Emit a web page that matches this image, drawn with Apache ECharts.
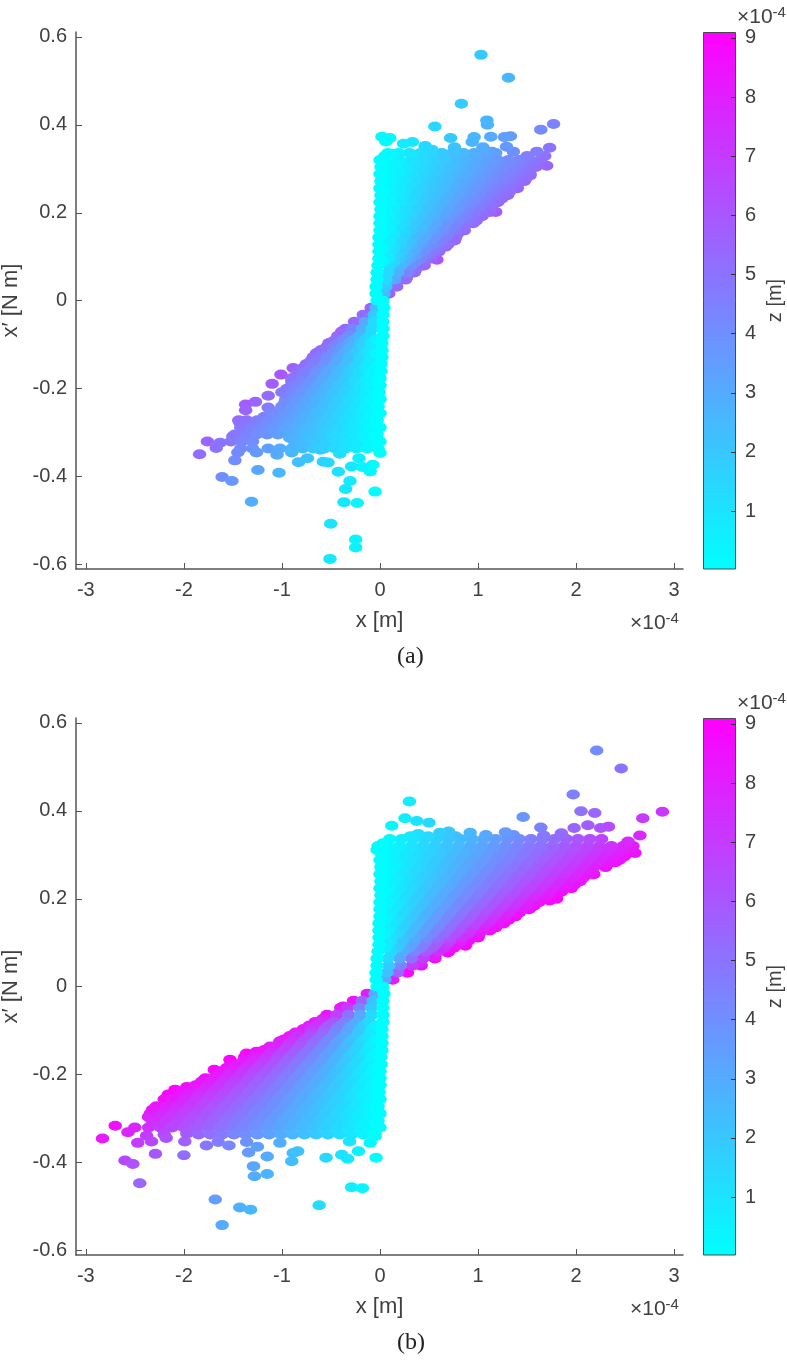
<!DOCTYPE html>
<html>
<head>
<meta charset="utf-8">
<style>html,body{margin:0;padding:0;background:#fff}#chart{width:787px;height:1365px}</style>
<script src="https://cdn.jsdelivr.net/npm/echarts@6/dist/echarts.min.js"></script>
</head>
<body>
<div id="chart"></div>
<script>
// Tick labels
const xTicks = [-3, -2, -1, 0, 1, 2, 3];
const yTicks = [-0.6, -0.4, -0.2, 0, 0.2, 0.4, 0.6];
const zTicks = [1, 2, 3, 4, 5, 6, 7, 8, 9];
const panelLabels = ['(a)', '(b)'];

// Fan body, one row per torque level: [y, [x...], [z...]], x and z in units of 1e-4 m
const bodyAUpper = [
[.336,[.08,.19,.3,.41,.52,.63,.74,.85,.96,1.07,1.18],[.2,.6,.9,1.2,1.5,1.9,2.2,2.5,2.9,3.2,3.5]],
[.32,[0,.1,.2,.32,.43,.54,.65,.76,.87,.98,1.09,1.2,1.31,1.42,1.53,1.64],[.05,.3,.6,1,1.3,1.7,2,2.4,2.7,3.1,3.4,3.8,4.1,4.4,4.8,5.1]],
[.312,[.03,.14,.25,.36,.47,.58,.69,.8,.91,1.02,1.13,1.24,1.35,1.46,1.57],[.1,.4,.8,1.2,1.5,1.9,2.2,2.6,2.9,3.3,3.6,4,4.3,4.7,5]],
[.304,[.01,.16,.27,.38,.49,.6,.71,.82,.93,1.04,1.15,1.26,1.37,1.48,1.59],[.05,.5,.9,1.3,1.6,2,2.3,2.7,3.1,3.4,3.8,4.1,4.5,4.9,5.2]],
[.296,[.08,.19,.3,.41,.52,.63,.74,.85,.96,1.07,1.18,1.29,1.4,1.51],[.3,.6,1,1.4,1.8,2.1,2.5,2.9,3.2,3.6,4,4.4,4.7,5.1]],
[.288,[0,.1,.21,.32,.43,.54,.65,.76,.87,.98,1.09,1.2,1.31,1.42,1.53],[.05,.3,.7,1.1,1.5,1.9,2.3,2.6,3,3.4,3.8,4.2,4.5,4.9,5.3]],
[.28,[.03,.14,.25,.36,.47,.58,.69,.8,.91,1.02,1.13,1.24,1.35,1.46],[.1,.5,.9,1.3,1.7,2.1,2.5,2.9,3.3,3.6,4,4.4,4.8,5.2]],
[.272,[.01,.15,.26,.37,.48,.59,.7,.81,.92,1.03,1.14,1.25,1.36,1.47],[.05,.6,1,1.4,1.8,2.2,2.6,3,3.4,3.8,4.2,4.6,5,5.4]],
[.264,[.08,.19,.3,.41,.52,.63,.74,.85,.96,1.07,1.18,1.29,1.4],[.3,.7,1.1,1.6,2,2.4,2.8,3.2,3.6,4.1,4.5,4.9,5.3]],
[.256,[0,.1,.21,.32,.43,.54,.65,.76,.87,.98,1.09,1.2,1.31,1.4],[.05,.4,.8,1.3,1.7,2.1,2.5,3,3.4,3.8,4.3,4.7,5.1,5.5]],
[.248,[.03,.14,.25,.36,.47,.58,.69,.8,.91,1.02,1.13,1.24,1.32],[.1,.6,1,1.5,1.9,2.3,2.8,3.2,3.7,4.1,4.6,5,5.3]],
[.24,[.01,.14,.25,.36,.47,.58,.69,.8,.91,1.02,1.13,1.24,1.3],[.05,.6,1,1.5,2,2.4,2.9,3.3,3.8,4.3,4.7,5.2,5.4]],
[.232,[.08,.19,.3,.41,.52,.63,.74,.85,.96,1.07,1.18,1.24],[.3,.8,1.3,1.8,2.2,2.7,3.2,3.7,4.1,4.6,5.1,5.3]],
[.224,[0,.1,.21,.32,.43,.54,.65,.76,.87,.98,1.09,1.2],[.05,.4,.9,1.4,1.9,2.4,2.9,3.4,3.9,4.4,4.9,5.4]],
[.216,[.03,.14,.25,.36,.47,.58,.69,.8,.91,1.02,1.13],[.1,.6,1.2,1.7,2.2,2.7,3.2,3.7,4.2,4.7,5.2]],
[.208,[.01,.14,.25,.36,.47,.58,.69,.8,.91,1.02,1.12],[.05,.7,1.2,1.7,2.3,2.8,3.3,3.8,4.4,4.9,5.4]],
[.2,[.08,.19,.3,.41,.52,.63,.74,.85,.96,1.06],[.4,1,1.5,2.1,2.6,3.2,3.7,4.3,4.8,5.3]],
[.192,[0,.1,.21,.32,.43,.54,.65,.76,.87,.98,1.04],[.05,.5,1.1,1.7,2.2,2.8,3.4,4,4.5,5.1,5.4]],
[.184,[.03,.14,.25,.36,.47,.58,.69,.8,.91,.98],[.2,.8,1.4,2,2.6,3.2,3.8,4.3,4.9,5.3]],
[.176,[0,.13,.24,.35,.46,.57,.68,.79,.9,.95],[.05,.7,1.4,2,2.6,3.2,3.9,4.5,5.1,5.4]],
[.168,[.08,.19,.3,.41,.52,.63,.74,.85],[.5,1.1,1.8,2.4,3.1,3.8,4.4,5.1]],
[.16,[0,.1,.21,.32,.43,.54,.65,.76,.86],[.05,.6,1.3,2,2.7,3.4,4.1,4.8,5.4]],
[.152,[.03,.14,.25,.36,.47,.58,.69,.79],[.2,.9,1.6,2.4,3.1,3.8,4.5,5.2]],
[.144,[-.01,.12,.23,.34,.45,.56,.67,.77],[.05,.8,1.6,2.4,3.1,3.9,4.7,5.3]],
[.136,[.08,.19,.3,.41,.52,.63,.71],[.6,1.4,2.2,3,3.8,4.6,5.2]],
[.128,[-.01,.1,.21,.32,.43,.54,.65,.69],[.05,.8,1.6,2.5,3.4,4.2,5.1,5.4]],
[.12,[.03,.14,.25,.36,.47,.58],[.3,1.2,2.1,3,3.9,4.8]],
[.112,[-.01,.11,.22,.33,.44,.55,.6],[.05,1,2,2.9,3.9,4.9,5.4]],
[.104,[.07,.17,.27,.37,.47,.54],[.7,1.6,2.6,3.6,4.5,5.2]],
[.096,[-.01,.09,.2,.31,.42,.52],[.05,.9,2.1,3.2,4.4,5.4]],
[.088,[.03,.14,.25,.36,.45],[.3,1.6,2.8,4.1,5.1]],
[.08,[-.02,.1,.21,.32,.43],[.05,1.3,2.6,4,5.4]],
[.064,[-.03,.08,.18,.28,.35],[.05,1.3,2.8,4.4,5.4]],
[.048,[-.03,.06,.15,.26],[.05,1.3,3.1,5.4]],
[.032,[-.04,.06,.17],[.05,1.9,5.3]],
[.016,[-.04,.04,.09],[.05,2.5,5.5]],
[0,[-.03,.03],[.05,.05]]];
const bodyALower = [
[-.336,[-.02,-.13,-.24,-.35,-.46,-.57,-.68,-.79,-.9,-1.02,-1.14,-1.3,-1.42],[.1,.4,.7,1,1.4,1.7,2,2.4,2.7,3,3.4,3.9,4.2]],
[-.32,[0,-.1,-.21,-.32,-.43,-.54,-.65,-.76,-.87,-1.3,-1.41,-1.52],[.05,.3,.7,1,1.3,1.7,2,2.4,2.7,4.1,4.4,4.8]],
[-.312,[-.04,-.15,-.26,-.37,-.48,-.59,-.7,-.81,-.92],[.1,.5,.8,1.2,1.5,1.9,2.2,2.6,2.9]],
[-.304,[-.03,-.16,-.27,-.38,-.49,-.6,-.71,-.82,-.93,-1.04,-1.15,-1.26,-1.37,-1.48],[.05,.5,.9,1.3,1.6,2,2.3,2.7,3.1,3.4,3.8,4.1,4.5,4.9]],
[-.296,[-.09,-.2,-.31,-.42,-.53,-.64,-.75,-.86,-.97,-1.08,-1.19,-1.3,-1.41],[.3,.7,1,1.4,1.8,2.2,2.5,2.9,3.3,3.6,4,4.4,4.8]],
[-.288,[0,-.1,-.21,-.32,-.43,-.54,-.65,-.76,-.87,-.98,-1.09,-1.2,-1.31,-1.42],[.05,.3,.7,1.1,1.5,1.9,2.3,2.6,3,3.4,3.8,4.2,4.5,4.9]],
[-.28,[-.04,-.15,-.26,-.37,-.48,-.59,-.7,-.81,-.92,-1.03,-1.14,-1.25,-1.36],[.1,.5,.9,1.3,1.7,2.1,2.5,2.9,3.3,3.7,4.1,4.5,4.9]],
[-.272,[-.03,-.15,-.26,-.37,-.48,-.59,-.7,-.81,-.92,-1.03,-1.14,-1.25,-1.36,-1.44],[.05,.6,1,1.4,1.8,2.2,2.6,3,3.4,3.8,4.2,4.6,5,5.3]],
[-.264,[-.09,-.2,-.31,-.42,-.53,-.64,-.75,-.86,-.97,-1.08,-1.18],[.3,.8,1.2,1.6,2,2.4,2.8,3.3,3.7,4.1,4.5]],
[-.256,[0,-.1,-.21,-.32,-.43,-.54,-.65,-.76,-.87,-.98,-1.1],[.05,.4,.8,1.3,1.7,2.1,2.5,3,3.4,3.8,4.3]],
[-.248,[-.04,-.15,-.26,-.37,-.48,-.59,-.7,-.81,-.92,-1.01],[.2,.6,1,1.5,1.9,2.4,2.8,3.3,3.7,4.1]],
[-.24,[-.02,-.14,-.25,-.36,-.47,-.58,-.69,-.8,-.91,-1],[.05,.6,1,1.5,2,2.4,2.9,3.3,3.8,4.2]],
[-.232,[-.09,-.2,-.31,-.42,-.53,-.64,-.75,-.86,-.97],[.4,.9,1.3,1.8,2.3,2.8,3.2,3.7,4.2]],
[-.224,[0,-.1,-.21,-.32,-.43,-.54,-.65,-.76,-.87,-.96],[.05,.4,.9,1.4,1.9,2.4,2.9,3.4,3.9,4.3]],
[-.216,[-.04,-.15,-.26,-.37,-.48,-.59,-.7,-.81,-.92],[.2,.7,1.2,1.7,2.2,2.7,3.2,3.8,4.3]],
[-.208,[-.01,-.14,-.25,-.36,-.47,-.58,-.69,-.8,-.91,-1],[.05,.7,1.2,1.7,2.3,2.8,3.3,3.8,4.4,4.8]],
[-.2,[-.09,-.2,-.31,-.42,-.53,-.64,-.75,-.86,-.95],[.5,1,1.6,2.1,2.7,3.2,3.8,4.3,4.8]],
[-.192,[0,-.1,-.21,-.32,-.43,-.54,-.65,-.76,-.87],[.05,.5,1.1,1.7,2.2,2.8,3.4,4,4.5]],
[-.184,[-.04,-.15,-.26,-.37,-.48,-.59,-.7,-.81,-.9],[.2,.8,1.4,2,2.6,3.2,3.8,4.4,4.9]],
[-.176,[0,-.13,-.24,-.35,-.46,-.57,-.68,-.79,-.9],[.05,.7,1.4,2,2.6,3.2,3.9,4.5,5.1]],
[-.168,[-.09,-.2,-.31,-.42,-.53,-.64,-.75,-.85],[.5,1.2,1.8,2.5,3.2,3.8,4.5,5.1]],
[-.16,[.01,-.1,-.21,-.32,-.43,-.54,-.65,-.76,-.84],[.05,.6,1.3,2,2.7,3.4,4.1,4.8,5.3]],
[-.152,[-.04,-.15,-.26,-.37,-.48,-.59,-.7,-.78],[.3,1,1.7,2.4,3.2,3.9,4.6,5.1]],
[-.144,[.01,-.12,-.23,-.34,-.45,-.56,-.67,-.75],[.05,.8,1.6,2.4,3.1,3.9,4.7,5.2]],
[-.136,[-.09,-.2,-.31,-.42,-.53,-.64,-.7],[.7,1.5,2.3,3.1,3.9,4.7,5.1]],
[-.128,[.02,-.1,-.21,-.32,-.43,-.54,-.65,-.68],[.05,.8,1.6,2.5,3.4,4.2,5.1,5.3]],
[-.12,[-.04,-.15,-.26,-.37,-.48,-.59],[.3,1.3,2.2,3.1,4,4.9]],
[-.112,[.02,-.11,-.22,-.33,-.44,-.55,-.6],[.05,1,2,2.9,3.9,4.9,5.4]],
[-.104,[-.08,-.18,-.28,-.38,-.48,-.54],[.8,1.7,2.7,3.7,4.6,5.2]],
[-.096,[.02,-.09,-.2,-.31,-.42,-.52],[.05,.9,2.1,3.2,4.4,5.4]],
[-.088,[-.04,-.15,-.26,-.37,-.45],[.5,1.7,3,4.2,5.1]],
[-.08,[.03,-.1,-.21,-.32,-.43],[.05,1.3,2.6,4,5.4]],
[-.064,[.03,-.08,-.18,-.28,-.35],[.05,1.3,2.8,4.4,5.4]],
[-.048,[.03,-.06,-.15,-.26],[.05,1.3,3.1,5.4]],
[-.032,[.03,-.06,-.17],[.05,1.9,5.3]],
[-.016,[.04,-.04,-.09],[.05,2.5,5.5]]];
const bodyBUpper = [
[.336,[.1,.22,.34,.46,.58,.7,.82,.94,1.06,1.18,1.3,1.42,1.54,1.66,1.78,1.9,2.02,2.14,2.26],[.3,.7,1,1.4,1.7,2.1,2.4,2.8,3.2,3.5,3.9,4.2,4.6,4.9,5.3,5.7,6,6.4,6.7]],
[.32,[-.02,.08,.2,.32,.44,.56,.68,.8,.92,1.04,1.16,1.28,1.4,1.52,1.64,1.76,1.88,2,2.12,2.24,2.36,2.48,2.58],[.05,.3,.6,1,1.4,1.8,2.1,2.5,2.9,3.3,3.6,4,4.4,4.8,5.1,5.5,5.9,6.3,6.6,7,7.4,7.8,8.1]],
[.312,[.05,.17,.29,.41,.53,.65,.77,.89,1.01,1.13,1.25,1.37,1.49,1.61,1.73,1.85,1.97,2.09,2.21,2.33,2.45,2.55],[.2,.5,.9,1.3,1.7,2.1,2.5,2.9,3.2,3.6,4,4.4,4.8,5.2,5.5,5.9,6.3,6.7,7.1,7.5,7.9,8.2]],
[.304,[.01,.14,.26,.38,.5,.62,.74,.86,.98,1.1,1.22,1.34,1.46,1.58,1.7,1.82,1.94,2.06,2.18,2.3,2.42,2.54],[.05,.5,.9,1.3,1.6,2,2.4,2.8,3.2,3.6,4,4.4,4.8,5.2,5.6,6,6.4,6.8,7.2,7.6,8,8.4]],
[.296,[.11,.23,.35,.47,.59,.71,.83,.95,1.07,1.19,1.31,1.43,1.55,1.67,1.79,1.91,2.03,2.15,2.27,2.39,2.49],[.4,.8,1.2,1.6,2,2.4,2.8,3.2,3.6,4,4.4,4.8,5.2,5.6,6,6.5,6.9,7.3,7.7,8.1,8.4]],
[.288,[0,.08,.2,.32,.44,.56,.68,.8,.92,1.04,1.16,1.28,1.4,1.52,1.64,1.76,1.88,2,2.12,2.24,2.36,2.44],[.05,.3,.7,1.1,1.5,1.9,2.4,2.8,3.2,3.6,4,4.4,4.9,5.3,5.7,6.1,6.5,6.9,7.4,7.8,8.2,8.5]],
[.28,[.05,.17,.29,.41,.53,.65,.77,.89,1.01,1.13,1.25,1.37,1.49,1.61,1.73,1.85,1.97,2.09,2.21,2.33],[.2,.6,1,1.5,1.9,2.3,2.8,3.2,3.6,4,4.5,4.9,5.3,5.8,6.2,6.6,7,7.5,7.9,8.3]],
[.272,[.01,.14,.26,.38,.5,.62,.74,.86,.98,1.1,1.22,1.34,1.46,1.58,1.7,1.82,1.94,2.06,2.18,2.3],[.05,.5,1,1.4,1.8,2.3,2.7,3.2,3.6,4,4.5,4.9,5.4,5.8,6.3,6.7,7.1,7.6,8,8.5]],
[.264,[.11,.23,.35,.47,.59,.71,.83,.95,1.07,1.19,1.31,1.43,1.55,1.67,1.79,1.91,2.03,2.15],[.4,.9,1.3,1.8,2.2,2.7,3.1,3.6,4.1,4.5,5,5.4,5.9,6.3,6.8,7.2,7.7,8.1]],
[.256,[0,.08,.2,.32,.44,.56,.68,.8,.92,1.04,1.16,1.28,1.4,1.52,1.64,1.76,1.88,2,2.12,2.18],[.05,.3,.8,1.3,1.7,2.2,2.7,3.1,3.6,4.1,4.5,5,5.5,5.9,6.4,6.9,7.3,7.8,8.3,8.5]],
[.248,[.05,.17,.29,.41,.53,.65,.77,.89,1.01,1.13,1.25,1.37,1.49,1.61,1.73,1.85,1.97,2.07],[.2,.7,1.2,1.7,2.1,2.6,3.1,3.6,4.1,4.6,5,5.5,6,6.5,7,7.5,7.9,8.3]],
[.24,[.01,.14,.26,.38,.5,.62,.74,.86,.98,1.1,1.22,1.34,1.46,1.58,1.7,1.82,1.94,2.04],[.05,.6,1.1,1.6,2.1,2.6,3.1,3.6,4.1,4.6,5.1,5.6,6.1,6.6,7.1,7.6,8.1,8.5]],
[.232,[.11,.23,.35,.47,.59,.71,.83,.95,1.07,1.19,1.31,1.43,1.55,1.67,1.79,1.91,1.98],[.5,1,1.5,2,2.5,3.1,3.6,4.1,4.6,5.1,5.6,6.2,6.7,7.2,7.7,8.2,8.5]],
[.224,[0,.08,.2,.32,.44,.56,.68,.8,.92,1.04,1.16,1.28,1.4,1.52,1.64,1.76,1.88,1.95],[.05,.4,.9,1.4,2,2.5,3,3.6,4.1,4.6,5.2,5.7,6.3,6.8,7.3,7.9,8.4,8.7]],
[.216,[.05,.17,.29,.41,.53,.65,.77,.89,1.01,1.13,1.25,1.37,1.49,1.61,1.73,1.85],[.2,.8,1.3,1.9,2.5,3,3.6,4.1,4.7,5.2,5.8,6.3,6.9,7.5,8,8.6]],
[.208,[.01,.14,.26,.38,.5,.62,.74,.86,.98,1.1,1.22,1.34,1.46,1.58,1.7,1.8],[.05,.7,1.3,1.8,2.4,3,3.6,4.1,4.7,5.3,5.9,6.4,7,7.6,8.2,8.7]],
[.2,[.11,.23,.35,.47,.59,.71,.83,.95,1.07,1.19,1.31,1.43,1.55,1.67],[.6,1.2,1.8,2.4,3,3.6,4.2,4.8,5.4,6,6.6,7.2,7.8,8.4]],
[.192,[0,.08,.2,.32,.44,.56,.68,.8,.92,1.04,1.16,1.28,1.4,1.52,1.62],[.05,.4,1,1.7,2.3,2.9,3.5,4.2,4.8,5.4,6,6.7,7.3,7.9,8.4]],
[.184,[.05,.17,.29,.41,.53,.65,.77,.89,1.01,1.13,1.25,1.37,1.49,1.57],[.3,.9,1.6,2.2,2.9,3.5,4.2,4.8,5.5,6.1,6.8,7.4,8.1,8.5]],
[.176,[0,.13,.25,.37,.49,.61,.73,.85,.97,1.09,1.21,1.33,1.45,1.52],[.05,.7,1.4,2.1,2.8,3.5,4.1,4.8,5.5,6.2,6.9,7.6,8.2,8.6]],
[.168,[.11,.23,.35,.47,.59,.71,.83,.95,1.07,1.19,1.31,1.42],[.7,1.4,2.1,2.8,3.5,4.2,4.9,5.7,6.4,7.1,7.8,8.5]],
[.16,[0,.08,.2,.32,.44,.56,.68,.8,.92,1.04,1.16,1.28,1.38],[.05,.5,1.3,2,2.8,3.5,4.3,5,5.8,6.5,7.3,8,8.6]],
[.152,[.05,.17,.29,.41,.53,.65,.77,.89,1.01,1.13,1.25,1.31],[.3,1.1,1.9,2.7,3.5,4.3,5.1,5.9,6.6,7.4,8.2,8.6]],
[.144,[-.01,.13,.25,.37,.49,.61,.73,.85,.97,1.09,1.21,1.26],[.05,.9,1.7,2.6,3.4,4.2,5.1,5.9,6.7,7.6,8.4,8.7]],
[.136,[.11,.23,.35,.47,.59,.71,.83,.95,1.07,1.16],[.8,1.7,2.6,3.5,4.3,5.2,6.1,7,7.9,8.5]],
[.128,[-.01,.08,.2,.32,.44,.56,.68,.8,.92,1.04,1.12],[.05,.6,1.6,2.5,3.4,4.4,5.3,6.3,7.2,8.1,8.7]],
[.12,[.05,.17,.29,.41,.53,.65,.77,.89,1.01],[.4,1.4,2.4,3.4,4.4,5.4,6.4,7.4,8.4]],
[.112,[-.01,.11,.23,.35,.47,.59,.71,.83,.95,1],[.05,1,2.1,3.1,4.2,5.3,6.3,7.4,8.5,8.9]],
[.104,[.11,.23,.35,.47,.59,.71,.83,.9],[1.1,2.2,3.4,4.5,5.7,6.8,8,8.7]],
[.096,[-.01,.08,.2,.32,.44,.56,.68,.8,.86],[.05,.8,2.1,3.3,4.6,5.8,7.1,8.3,8.9]],
[.088,[.05,.17,.29,.41,.53,.65,.75],[.6,1.9,3.3,4.7,6,7.4,8.5]],
[.08,[-.02,.11,.23,.35,.47,.59,.7],[.05,1.4,2.9,4.4,5.9,7.4,8.8]],
[.064,[-.03,.08,.2,.32,.44,.56],[.05,1.3,3.1,5,6.9,8.8]],
[.048,[-.03,.09,.21,.33,.42],[.05,1.9,4.4,6.9,8.8]],
[.032,[-.04,.07,.18,.28],[.05,2.2,5.6,8.8]],
[.016,[-.04,.05,.13],[.05,3.1,8.1]],
[0,[-.03,.03],[.05,.05]]];
const bodyBLower = [
[-.336,[-.05,-.17,-.29,-.41,-.53,-.65,-.77,-.89,-1.01,-1.13,-1.25,-1.37,-1.49,-1.61,-1.73,-1.85,-2.2],[.1,.5,.9,1.2,1.6,1.9,2.3,2.6,3,3.4,3.7,4.1,4.4,4.8,5.1,5.5,6.5]],
[-.32,[0,-.08,-.2,-.32,-.44,-.56,-.68,-.8,-.92,-1.04,-1.16,-1.28,-1.4,-1.52,-1.64,-1.76,-1.88,-2,-2.12,-2.24,-2.36],[.05,.3,.6,1,1.4,1.8,2.1,2.5,2.9,3.3,3.6,4,4.4,4.8,5.1,5.5,5.9,6.3,6.6,7,7.4]],
[-.312,[-.04,-.16,-.28,-.4,-.52,-.64,-.76,-.88,-1,-1.12,-1.24,-1.36,-1.48,-1.6,-1.72,-1.84,-1.96,-2.08,-2.2,-2.32],[.1,.5,.9,1.3,1.7,2.1,2.4,2.8,3.2,3.6,4,4.4,4.7,5.1,5.5,5.9,6.3,6.7,7.1,7.4]],
[-.304,[-.02,-.14,-.26,-.38,-.5,-.62,-.74,-.86,-.98,-1.1,-1.22,-1.34,-1.46,-1.58,-1.7,-1.82,-1.94,-2.06,-2.18,-2.3],[.05,.5,.9,1.3,1.6,2,2.4,2.8,3.2,3.6,4,4.4,4.8,5.2,5.6,6,6.4,6.8,7.2,7.6]],
[-.296,[-.1,-.22,-.34,-.46,-.58,-.7,-.82,-.94,-1.06,-1.18,-1.3,-1.42,-1.54,-1.66,-1.78,-1.9,-2.02,-2.14,-2.26,-2.36],[.3,.7,1.1,1.6,2,2.4,2.8,3.2,3.6,4,4.4,4.8,5.2,5.6,6,6.4,6.8,7.2,7.6,8]],
[-.288,[0,-.08,-.2,-.32,-.44,-.56,-.68,-.8,-.92,-1.04,-1.16,-1.28,-1.4,-1.52,-1.64,-1.76,-1.88,-2,-2.12,-2.24,-2.34],[.05,.3,.7,1.1,1.5,1.9,2.4,2.8,3.2,3.6,4,4.4,4.9,5.3,5.7,6.1,6.5,6.9,7.4,7.8,8.1]],
[-.28,[-.04,-.16,-.28,-.4,-.52,-.64,-.76,-.88,-1,-1.12,-1.24,-1.36,-1.48,-1.6,-1.72,-1.84,-1.96,-2.08,-2.2,-2.32],[.1,.6,1,1.4,1.9,2.3,2.7,3.1,3.6,4,4.4,4.9,5.3,5.7,6.1,6.6,7,7.4,7.9,8.3]],
[-.272,[-.02,-.14,-.26,-.38,-.5,-.62,-.74,-.86,-.98,-1.1,-1.22,-1.34,-1.46,-1.58,-1.7,-1.82,-1.94,-2.06,-2.18,-2.28],[.05,.5,1,1.4,1.8,2.3,2.7,3.2,3.6,4,4.5,4.9,5.4,5.8,6.3,6.7,7.1,7.6,8,8.4]],
[-.264,[-.1,-.22,-.34,-.46,-.58,-.7,-.82,-.94,-1.06,-1.18,-1.3,-1.42,-1.54,-1.66,-1.78,-1.9,-2.02,-2.14],[.4,.8,1.3,1.7,2.2,2.7,3.1,3.6,4,4.5,4.9,5.4,5.8,6.3,6.7,7.2,7.7,8.1]],
[-.256,[0,-.08,-.2,-.32,-.44,-.56,-.68,-.8,-.92,-1.04,-1.16,-1.28,-1.4,-1.52,-1.64,-1.76,-1.88,-2,-2.12,-2.2],[.05,.3,.8,1.3,1.7,2.2,2.7,3.1,3.6,4.1,4.5,5,5.5,5.9,6.4,6.9,7.3,7.8,8.3,8.6]],
[-.248,[-.04,-.16,-.28,-.4,-.52,-.64,-.76,-.88,-1,-1.12,-1.24,-1.36,-1.48,-1.6,-1.72,-1.84,-1.96,-2.05],[.2,.6,1.1,1.6,2.1,2.6,3.1,3.5,4,4.5,5,5.5,6,6.5,6.9,7.4,7.9,8.3]],
[-.24,[-.01,-.14,-.26,-.38,-.5,-.62,-.74,-.86,-.98,-1.1,-1.22,-1.34,-1.46,-1.58,-1.7,-1.82,-1.94,-2.04],[.05,.6,1.1,1.6,2.1,2.6,3.1,3.6,4.1,4.6,5.1,5.6,6.1,6.6,7.1,7.6,8.1,8.5]],
[-.232,[-.1,-.22,-.34,-.46,-.58,-.7,-.82,-.94,-1.06,-1.18,-1.3,-1.42,-1.54,-1.66,-1.78,-1.9],[.4,.9,1.5,2,2.5,3,3.5,4.1,4.6,5.1,5.6,6.1,6.6,7.2,7.7,8.2]],
[-.224,[0,-.08,-.2,-.32,-.44,-.56,-.68,-.8,-.92,-1.04,-1.16,-1.28,-1.4,-1.52,-1.64,-1.76,-1.88],[.05,.4,.9,1.4,2,2.5,3,3.6,4.1,4.6,5.2,5.7,6.3,6.8,7.3,7.9,8.4]],
[-.216,[-.04,-.16,-.28,-.4,-.52,-.64,-.76,-.88,-1,-1.12,-1.24,-1.36,-1.48,-1.6,-1.72,-1.82],[.2,.7,1.3,1.9,2.4,3,3.5,4.1,4.6,5.2,5.7,6.3,6.9,7.4,8,8.4]],
[-.208,[0,-.14,-.26,-.38,-.5,-.62,-.74,-.86,-.98,-1.1,-1.22,-1.34,-1.46,-1.58,-1.7,-1.78],[.05,.7,1.3,1.8,2.4,3,3.6,4.1,4.7,5.3,5.9,6.4,7,7.6,8.2,8.6]],
[-.2,[-.1,-.22,-.34,-.46,-.58,-.7,-.82,-.94,-1.06,-1.18,-1.3,-1.42,-1.54,-1.64],[.5,1.1,1.7,2.3,2.9,3.5,4.1,4.7,5.3,5.9,6.5,7.1,7.7,8.2]],
[-.192,[0,-.08,-.2,-.32,-.44,-.56,-.68,-.8,-.92,-1.04,-1.16,-1.28,-1.4,-1.52,-1.62],[.05,.4,1,1.7,2.3,2.9,3.5,4.2,4.8,5.4,6,6.7,7.3,7.9,8.4]],
[-.184,[-.04,-.16,-.28,-.4,-.52,-.64,-.76,-.88,-1,-1.12,-1.24,-1.36,-1.48,-1.56],[.2,.9,1.5,2.2,2.8,3.5,4.1,4.8,5.4,6.1,6.7,7.4,8,8.5]],
[-.176,[.01,-.13,-.25,-.37,-.49,-.61,-.73,-.85,-.97,-1.09,-1.21,-1.33,-1.45,-1.52],[.05,.7,1.4,2.1,2.8,3.5,4.1,4.8,5.5,6.2,6.9,7.6,8.2,8.6]],
[-.168,[-.1,-.22,-.34,-.46,-.58,-.7,-.82,-.94,-1.06,-1.18,-1.3,-1.39],[.6,1.3,2,2.7,3.5,4.2,4.9,5.6,6.3,7,7.7,8.3]],
[-.16,[.01,-.08,-.2,-.32,-.44,-.56,-.68,-.8,-.92,-1.04,-1.16,-1.28,-1.38],[.05,.5,1.3,2,2.8,3.5,4.3,5,5.8,6.5,7.3,8,8.6]],
[-.152,[-.04,-.16,-.28,-.4,-.52,-.64,-.76,-.88,-1,-1.12,-1.24],[.3,1.1,1.8,2.6,3.4,4.2,5,5.8,6.6,7.4,8.2]],
[-.144,[.02,-.13,-.25,-.37,-.49,-.61,-.73,-.85,-.97,-1.09,-1.18],[.05,.9,1.7,2.6,3.4,4.2,5.1,5.9,6.7,7.6,8.2]],
[-.136,[-.1,-.22,-.34,-.46,-.58,-.7,-.82,-.94,-1.06,-1.12],[.7,1.6,2.5,3.4,4.3,5.1,6,6.9,7.8,8.2]],
[-.128,[.02,-.08,-.2,-.32,-.44,-.56,-.68,-.8,-.92,-1.02],[.05,.6,1.6,2.5,3.4,4.4,5.3,6.3,7.2,8]],
[-.12,[-.04,-.16,-.28,-.4,-.52,-.64,-.76,-.88,-.98],[.3,1.3,2.3,3.3,4.3,5.3,6.3,7.3,8.2]],
[-.112,[.02,-.11,-.23,-.35,-.47,-.59,-.71,-.83,-.92],[.05,1,2.1,3.1,4.2,5.3,6.3,7.4,8.2]],
[-.104,[-.1,-.22,-.34,-.46,-.58,-.7,-.82,-.86],[1,2.1,3.3,4.4,5.6,6.7,7.9,8.3]],
[-.096,[.02,-.08,-.2,-.32,-.44,-.56,-.68,-.78],[.05,.8,2.1,3.3,4.6,5.8,7.1,8.1]],
[-.088,[-.04,-.16,-.28,-.4,-.52,-.64,-.72],[.5,1.8,3.2,4.5,5.9,7.3,8.2]],
[-.08,[.03,-.11,-.23,-.35,-.47,-.59,-.66],[.05,1.4,2.9,4.4,5.9,7.4,8.2]],
[-.064,[.03,-.08,-.2,-.32,-.44,-.54],[.05,1.3,3.1,5,6.9,8.4]],
[-.048,[.03,-.09,-.21,-.33,-.4],[.05,1.9,4.4,6.9,8.3]],
[-.032,[.03,-.07,-.18,-.27],[.05,2.2,5.6,8.4]],
[-.016,[.04,-.05,-.13],[.05,3.1,8.1]]];

// Separately visible markers around the fans: [x, y, z]
const sparseAUpper = [[1.03,.559,1.9],[1.31,.507,2.6],[.83,.448,1.85],[.56,.396,1.4],[1.09,.41,2.65],[1.095,.4,2.7],[1.77,.402,4.4],[1.64,.389,4.2],[1.73,.348,5],[1.7,.307,5.5],[.02,.373,.2],[.1,.37,.3],[.06,.362,.2],[.24,.357,.7],[.33,.361,.9],[.72,.37,1.9],[.76,.349,2.2],[.96,.372,2.6],[.94,.361,2.6],[1.13,.373,3],[1.27,.372,3.4],[1.33,.374,3.6],[1.05,.349,3],[1.14,.339,3.4],[1.29,.35,3.7],[1.36,.339,4],[1.6,.339,4.7],[1.5,.329,4.6],[1.68,.329,5.1],[.46,.352,1.3],[.53,.343,1.5],[.05,.329,.2],[.14,.334,.4],[1.53,.285,5.4],[1.48,.275,5.4],[1.33,.254,5.2],[1.21,.228,5.3],[1.1,.209,5.3],[1.18,.202,5.8],[1.12,.202,5.5],[.98,.182,5.4],[.83,.16,5.2],[.76,.137,5.5],[.67,.123,5.4],[.58,.093,6.2],[.45,.08,5.6],[.36,.07,5.1],[.27,.052,5.2]];
const sparseALower = [[-.51,-.587,.9],[-.248,-.543,.45],[-.248,-.561,.45],[-.503,-.507,1],[-1.31,-.457,2.9],[-.367,-.458,.8],[-.232,-.46,.5],[-.05,-.434,.15],[-.35,-.428,.8],[-.306,-.41,.75],[-1.51,-.41,3.7],[-1.61,-.401,4],[-1.245,-.385,3.2],[-1.03,-.391,2.6],[-.425,-.389,1.1],[-.1,-.388,.3],[-.074,-.373,.2],[-.18,-.378,.5],[-.29,-.377,.8],[-.214,-.358,.6],[-.578,-.366,1.6],[-.53,-.368,1.45],[-.83,-.367,2.3],[-.74,-.358,2.1],[-.61,-.339,1.8],[0,-.346,.05],[-.41,-.348,1.2],[-1.84,-.349,5.2],[-1.67,-.335,5],[-1.76,-.32,5.5],[-1.63,-.323,5],[-1.48,-.363,4.1],[-1.45,-.345,4.2],[-1.26,-.345,3.7],[-1.05,-.35,3],[-.9,-.345,2.6],[-1.5,-.308,4.9],[-1.43,-.277,5.2],[-1.37,-.249,5.5],[-1.37,-.236,5.8],[-1.27,-.23,5.5],[-1.14,-.243,4.7],[-1.14,-.216,5.3],[-1.1,-.189,5.8],[-1.01,-.168,6],[-.885,-.153,5.8],[-.646,-.119,5.4],[-.48,-.093,5.2],[-.39,-.07,5.6]];
const sparseBUpper = [[2.21,.537,4.1],[2.46,.496,5],[1.97,.437,4.5],[2.05,.399,5.1],[2.19,.395,5.5],[2.88,.398,7.2],[2.68,.383,7],[1.46,.386,3.8],[.3,.421,.7],[.255,.383,.7],[.375,.377,1],[.5,.373,1.4],[.12,.366,.35],[1.64,.362,4.5],[1.67,.344,4.8],[1.85,.349,5.3],[1.98,.361,5.5],[2.12,.367,5.8],[2.25,.361,6.2],[2.33,.364,6.4],[2.65,.344,7.7],[2.53,.33,7.7],[2.6,.304,8.5],[2.4,.283,8.5],[2.3,.275,8.4],[2.07,.25,8.3],[1.87,.226,8.3],[1.8,.2,9],[1.72,.209,8.2],[1.73,.196,8.8],[1.54,.181,8.5],[1.38,.19,7.3],[1.28,.158,8.1],[1.18,.135,8.7],[.87,.093,9],[.69,.078,8.8],[.56,.069,8.1],[.41,.054,7.6],[.61,.35,1.7],[.7,.353,2],[.92,.35,2.6],[1.08,.345,3.1],[1.28,.351,3.6],[1.36,.345,3.9],[.39,.347,1.1],[.31,.342,.9],[.49,.342,1.4],[.77,.342,2.3],[.03,.326,.1],[-.03,.311,.1]];
const sparseBLower = [[-1.61,-.542,3],[-1.68,-.484,3.5],[-1.43,-.502,2.85],[-1.32,-.507,2.6],[-.62,-.497,1.25],[-.29,-.456,.65],[-.18,-.458,.4],[-2.45,-.447,5.5],[-2.6,-.395,6.6],[-2.52,-.403,6.2],[-2.29,-.38,6],[-2,-.383,5.2],[-1.29,-.408,3.2],[-1.28,-.431,3],[-1.15,-.426,2.7],[-1.15,-.386,3],[-1.34,-.377,3.6],[-.9,-.397,2.3],[-.55,-.389,1.4],[-.33,-.391,.85],[-.39,-.382,1],[-.04,-.389,.1],[-.05,-.34,.15],[-2.83,-.345,8.2],[-2.7,-.316,8.5],[-2.57,-.331,7.8],[-2.5,-.32,7.8],[-2.38,-.339,7],[-2.47,-.355,7],[-2.33,-.352,6.6],[-2.18,-.344,6.3],[-1.97,-.334,5.9],[-1.99,-.352,5.7],[-1.77,-.361,4.9],[-1.65,-.353,4.7],[-1.54,-.361,4.3],[-1.44,-.331,4.3],[-1.36,-.353,3.9],[-1.25,-.364,3.4],[-2.33,-.302,7.7],[-2.28,-.276,8.3],[-2.19,-.272,8.1],[-2.16,-.245,8.8],[-2.09,-.234,8.9],[-1.97,-.228,8.6],[-1.84,-.242,7.6],[-1.8,-.213,8.5],[-1.69,-.189,8.9],[-1.53,-.166,9],[-1.36,-.152,8.9],[-1.26,-.148,8.5],[-1.02,-.124,8.2],[-.85,-.109,7.8],[-.71,-.094,7.6],[-.58,-.073,7.9],[-.374,-.045,8.3],[-1.51,-.227,6.7],[-1.02,-.355,2.9],[-.885,-.378,2.3],[-.84,-.374,2.2],[-.22,-.374,.6],[-.1,-.355,.3],[-.31,-.352,.9],[-.03,-.31,.1],[-.03,-.286,.1]];

// Turn rows into [x, y, z] points; larger z is painted first so the cyan spine stays on top
function collect(rowSets, sparse) {
  const pts = sparse.slice();
  rowSets.forEach(rows => rows.forEach(([y, xs, zs]) => xs.forEach((x, i) => pts.push([x, y, zs[i]]))));
  return pts.sort((p, q) => q[2] - p[2]);
}
const pointsA = collect([bodyAUpper, bodyALower], sparseAUpper.concat(sparseALower));
const pointsB = collect([bodyBUpper, bodyBLower], sparseBUpper.concat(sparseBLower));

const zMin = 0.02, zMax = 9.1;
const ink = '#404040', axisInk = '#555555';
const font = '"Liberation Sans", Arial, sans-serif';
const panels = [{top: 32, pts: pointsA}, {top: 718, pts: pointsB}];
const H = 537, LEFT = 76, W = 607, BAR_L = 703, BAR_W = 33;
const fmt = v => String(Math.round(v * 10) / 10);
const label = {color: ink, fontFamily: font, fontSize: 20};

const grid = [], xAxis = [], yAxis = [], series = [], graphic = [];
const powerText = (x, y) => ({
  type: 'text', left: x, top: y, silent: true,
  style: {text: '{a|×10}{b|-4}', fill: ink, rich: {
    a: {fontFamily: font, fontSize: 21, fill: ink},
    b: {fontFamily: font, fontSize: 15, fill: ink, verticalAlign: 'top', padding: [0, 0, 10, 0]}}}
});

panels.forEach((p, k) => {
  const s = grid.length;
  grid.push({left: LEFT, width: W, top: p.top, height: H, outerBoundsMode: 'none'});
  xAxis.push({
    gridIndex: s, type: 'value', min: -3.1, max: 3.09, splitLine: {show: false},
    name: 'x [m]', nameLocation: 'middle', nameGap: 41,
    nameTextStyle: {color: ink, fontFamily: font, fontSize: 22},
    axisLine: {show: true, onZero: false, lineStyle: {color: axisInk, width: 1.5}},
    axisTick: {show: true, inside: true, length: 6, customValues: xTicks, lineStyle: {color: axisInk}},
    axisLabel: {...label, margin: 11, customValues: xTicks, formatter: fmt}
  });
  yAxis.push({
    gridIndex: s, type: 'value', min: -0.61, max: 0.611, splitLine: {show: false},
    name: 'x′ [N m]', nameLocation: 'middle', nameGap: 49,
    nameTextStyle: {color: ink, fontFamily: font, fontSize: 22},
    axisLine: {show: true, onZero: false, lineStyle: {color: axisInk, width: 1.5}},
    axisTick: {show: true, inside: true, length: 6, customValues: yTicks, lineStyle: {color: axisInk}},
    axisLabel: {...label, margin: 9, customValues: yTicks, formatter: fmt}
  });
  series.push({
    type: 'scatter', xAxisIndex: s, yAxisIndex: s, data: p.pts, clip: false,
    symbol: 'circle', symbolSize: [13.5, 10], itemStyle: {opacity: 1},
    animation: false, large: false, silent: true
  });

  // Colour bar panel
  const c = grid.length;
  grid.push({left: BAR_L, width: BAR_W, top: p.top, height: H, outerBoundsMode: 'none'});
  xAxis.push({gridIndex: c, type: 'category', data: ['z'], show: false});
  yAxis.push({
    gridIndex: c, type: 'value', position: 'right', min: zMin, max: zMax, z: 5,
    splitLine: {show: false},
    name: 'z [m]', nameLocation: 'middle', nameGap: 29, nameRotate: 90,
    nameTextStyle: {color: ink, fontFamily: font, fontSize: 20},
    axisLine: {show: false},
    axisTick: {show: true, inside: true, length: 5, customValues: zTicks, lineStyle: {color: '#333'}},
    axisLabel: {...label, margin: 9, customValues: zTicks, formatter: fmt}
  });
  series.push({
    type: 'bar', xAxisIndex: c, yAxisIndex: c, data: [zMax], barWidth: '100%', silent: true,
    animation: false,
    itemStyle: {borderColor: '#4a4a4a', borderWidth: 1, color: {
      type: 'linear', x: 0, y: 1, x2: 0, y2: 0,
      colorStops: [{offset: 0, color: '#00ffff'}, {offset: 1, color: '#ff00ff'}]}}
  });

  graphic.push(powerText(630, p.top + H + 42));
  graphic.push(powerText(737, p.top - 27));
  graphic.push({
    type: 'text', left: 397, top: p.top + H + 76, silent: true,
    style: {text: panelLabels[k], fill: '#222', font: '24px "Liberation Serif", serif'}
  });
});

const chart = echarts.init(document.getElementById('chart'), null, {renderer: 'canvas'});
chart.setOption({
  animation: false, backgroundColor: '#fff',
  grid, xAxis, yAxis, series, graphic,
  visualMap: {
    show: false, type: 'continuous', dimension: 2, min: zMin, max: zMax,
    seriesIndex: [0, 2], inRange: {color: ['#00ffff', '#ff00ff']}
  }
});
</script>
</body>
</html>
